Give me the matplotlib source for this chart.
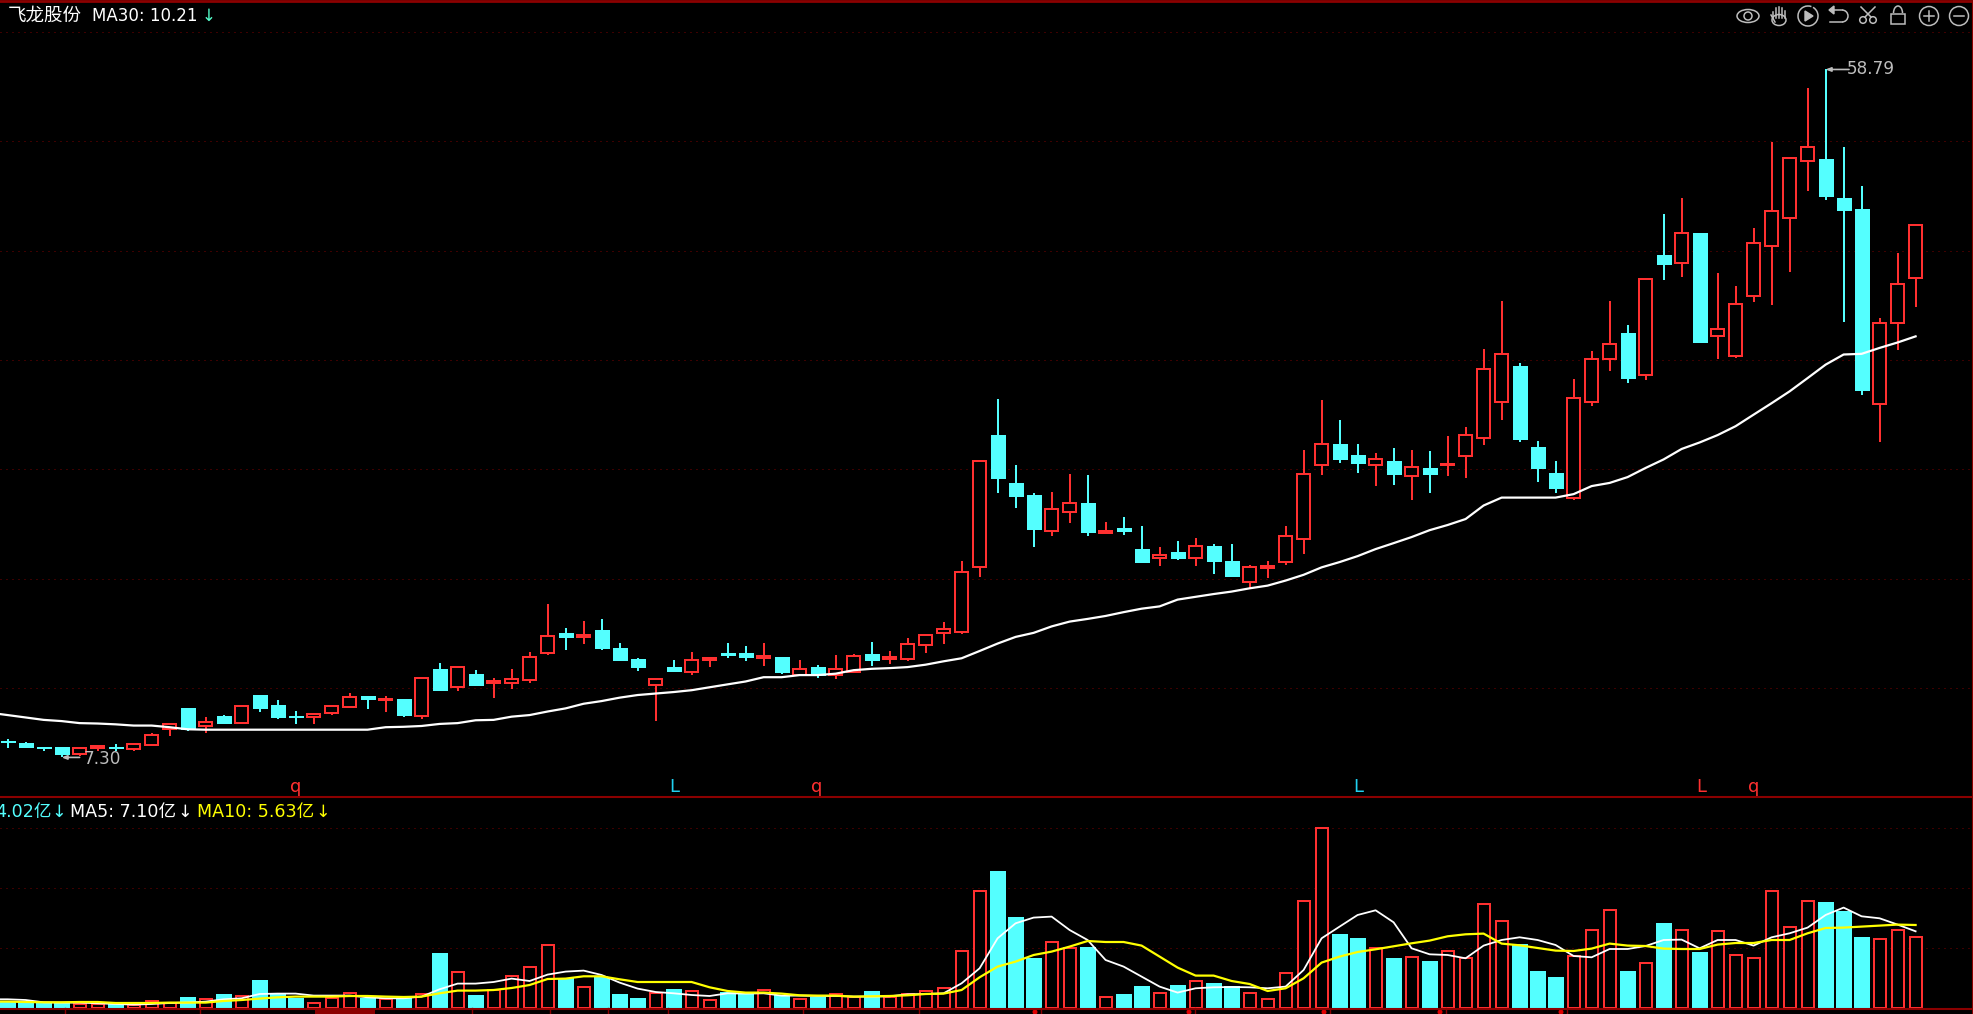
import matplotlib
matplotlib.use('Agg')
import matplotlib.pyplot as plt
from matplotlib.patches import Rectangle, Circle, Ellipse, Arc

plt.rcParams['font.family'] = ['DejaVu Sans', 'Noto Sans CJK SC']

# daily candles, oldest first
highs = [7.73, 7.66, 7.53, 7.53, 7.52, 7.58, 7.60, 7.63, 7.85, 8.11, 8.49, 8.24, 8.31, 8.55, 8.82, 8.69, 8.40, 8.33, 8.55, 8.87,
         8.79, 8.80, 8.72, 9.30, 9.71, 9.61, 9.51, 9.28, 9.53, 10.04, 11.64, 10.82, 11.03, 11.12, 10.32, 9.86, 9.27, 9.82, 10.05, 9.90,
         10.34, 10.24, 10.34, 9.90, 9.82, 9.65, 9.96, 9.99, 10.37, 10.08, 10.48, 10.60, 11.02, 13.26, 17.93, 21.64, 17.73, 16.29, 16.34, 17.26,
         17.21, 14.91, 15.14, 14.74, 13.83, 14.09, 14.22, 13.96, 13.96, 13.10, 13.25, 14.74, 18.54, 21.57, 20.28, 18.90, 18.35, 18.68, 18.57, 18.51,
         19.36, 19.91, 25.22, 29.16, 24.17, 19.06, 17.91, 23.02, 25.07, 29.16, 27.12, 31.19, 37.96, 39.85, 35.83, 31.71, 30.52, 36.39, 47.19, 44.95,
         55.62, 58.79, 46.50, 41.34, 27.70, 33.74, 36.70]
lows = [7.52, 7.50, 7.44, 7.30, 7.34, 7.45, 7.45, 7.44, 7.56, 7.80, 7.91, 7.87, 8.08, 8.08, 8.39, 8.21, 8.08, 8.08, 8.31, 8.47,
        8.46, 8.39, 8.24, 8.21, 8.92, 8.92, 9.07, 8.75, 8.99, 9.16, 9.96, 10.12, 10.29, 10.12, 9.79, 9.49, 8.16, 9.45, 9.37, 9.60,
        9.88, 9.77, 9.62, 9.41, 9.33, 9.28, 9.27, 9.43, 9.62, 9.70, 9.79, 10.02, 10.31, 10.60, 12.62, 16.29, 15.57, 13.83, 14.30, 14.87,
        14.30, 14.43, 14.35, 13.17, 13.06, 13.29, 13.06, 12.74, 12.63, 12.20, 12.59, 13.10, 13.52, 17.21, 17.80, 17.30, 16.60, 16.70, 15.95, 16.30,
        17.15, 17.05, 18.84, 20.28, 19.01, 16.85, 16.30, 15.95, 21.20, 23.57, 22.75, 22.95, 31.07, 31.35, 25.67, 24.47, 24.54, 29.07, 28.79, 31.81,
        40.72, 39.60, 27.37, 21.94, 19.01, 25.14, 28.61]
opens = [7.68, 7.62, 7.53, 7.53, 7.37, 7.52, 7.54, 7.48, 7.59, 7.96, 8.49, 8.02, 8.27, 8.11, 8.82, 8.56, 8.27, 8.24, 8.35, 8.50,
         8.79, 8.68, 8.72, 8.27, 9.53, 9.05, 9.40, 9.14, 9.14, 9.22, 10.01, 10.66, 10.52, 10.73, 10.17, 9.83, 9.10, 9.59, 9.45, 9.80,
         10.02, 10.02, 9.88, 9.90, 9.38, 9.59, 9.37, 9.46, 9.99, 9.83, 9.83, 10.25, 10.64, 10.67, 13.00, 19.42, 16.78, 16.20, 14.49, 15.35,
         15.81, 14.43, 14.65, 13.74, 13.37, 13.61, 13.38, 13.87, 13.25, 12.43, 12.98, 13.22, 14.16, 17.70, 18.88, 18.24, 17.72, 17.91, 17.15, 17.57,
         17.70, 18.22, 19.22, 21.46, 23.95, 18.73, 17.30, 16.02, 21.44, 24.45, 26.47, 23.28, 33.53, 32.72, 35.83, 26.22, 24.69, 29.61, 34.41, 37.47,
         44.59, 44.86, 39.85, 38.52, 21.33, 27.26, 31.22]
closes = [7.66, 7.53, 7.50, 7.37, 7.52, 7.55, 7.51, 7.61, 7.82, 8.09, 7.96, 8.12, 8.11, 8.54, 8.49, 8.24, 8.24, 8.33, 8.54, 8.78,
          8.72, 8.71, 8.31, 9.30, 8.96, 9.61, 9.10, 9.20, 9.27, 9.91, 10.56, 10.52, 10.58, 10.17, 9.81, 9.61, 9.27, 9.48, 9.81, 9.86,
          9.96, 9.90, 9.93, 9.47, 9.55, 9.37, 9.55, 9.92, 9.82, 9.90, 10.30, 10.59, 10.76, 12.80, 17.93, 17.05, 16.15, 14.61, 15.51, 15.80,
          14.48, 14.49, 14.52, 13.21, 13.48, 13.37, 13.86, 13.25, 12.67, 13.00, 13.06, 14.29, 17.24, 18.88, 18.02, 17.85, 18.05, 17.25, 17.59, 17.25,
          17.78, 19.38, 23.67, 24.79, 19.18, 17.57, 16.50, 21.69, 24.42, 25.54, 23.08, 31.19, 32.62, 35.76, 25.74, 26.74, 28.91, 34.78, 38.33, 44.91,
          46.41, 40.10, 38.40, 22.21, 27.24, 30.65, 36.65]
# the moving averages start one session before the first full candle
ma30 = [8.36, 8.30, 8.24, 8.18, 8.15, 8.10, 8.09, 8.07, 8.04, 8.04, 8.00, 7.95, 7.94, 7.94, 7.94, 7.94, 7.94, 7.94, 7.94, 7.94, 7.94,
        7.94, 8.00, 8.01, 8.03, 8.08, 8.10, 8.17, 8.18, 8.26, 8.30, 8.39, 8.47, 8.59, 8.66, 8.75, 8.82, 8.86, 8.90, 8.95, 9.03,
        9.11, 9.19, 9.31, 9.31, 9.37, 9.37, 9.41, 9.51, 9.55, 9.57, 9.60, 9.67, 9.77, 9.86, 10.08, 10.31, 10.52, 10.65, 10.86, 11.02,
        11.11, 11.21, 11.34, 11.46, 11.54, 11.78, 11.88, 11.98, 12.07, 12.19, 12.29, 12.48, 12.70, 12.99, 13.20, 13.44, 13.73, 13.98, 14.24, 14.54,
        14.77, 15.04, 15.67, 16.05, 16.05, 16.05, 16.05, 16.22, 16.62, 16.78, 17.08, 17.56, 18.02, 18.60, 18.97, 19.40, 19.93, 20.64, 21.37, 22.15,
        23.06, 24.02, 24.77, 24.82, 25.27, 25.69, 26.17]

# volume in 亿
volume = [0.50, 0.57, 0.47, 0.47, 0.43, 0.43, 0.33, 0.33, 0.70, 0.50, 1.03, 0.97, 1.33, 1.27, 2.73, 1.33, 0.93, 0.57, 1.00, 1.57,
          0.90, 0.93, 0.93, 1.47, 5.43, 3.67, 1.23, 1.87, 3.27, 4.17, 6.37, 2.90, 2.17, 3.00, 1.33, 0.93, 1.50, 1.83, 1.77, 0.87,
          1.50, 1.33, 1.87, 1.23, 0.97, 1.03, 1.47, 1.17, 1.63, 1.13, 1.47, 1.77, 2.07, 5.77, 11.77, 13.63, 9.03, 4.93, 6.67, 6.07,
          6.03, 1.17, 1.33, 2.13, 1.57, 2.23, 2.77, 2.43, 2.10, 1.57, 0.97, 3.57, 10.77, 18.07, 7.33, 6.93, 6.07, 4.93, 5.17, 4.63,
          5.77, 5.07, 10.47, 8.77, 6.33, 3.63, 3.03, 5.20, 7.87, 9.87, 3.63, 4.57, 8.43, 7.87, 5.53, 7.77, 5.37, 5.07, 11.77, 8.17,
          10.77, 10.53, 9.63, 7.03, 6.97, 7.87, 7.17]
vol_ma5 = [0.90, 0.90, 0.83, 0.60, 0.57, 0.57, 0.50, 0.43, 0.37, 0.43, 0.53, 0.57, 0.67, 0.90, 1.00, 1.43, 1.47, 1.47, 1.27, 1.27, 1.27,
           1.10, 1.00, 1.00, 1.17, 1.90, 2.47, 2.47, 2.63, 2.97, 2.73, 3.37, 3.67, 3.77, 3.33, 2.57, 1.97, 1.63, 1.50, 1.33, 1.23,
           1.50, 1.47, 1.50, 1.27, 1.27, 1.23, 1.23, 1.17, 1.17, 1.20, 1.40, 1.43, 1.50, 2.50, 4.00, 7.00, 8.50, 9.07, 9.17, 7.83,
           6.83, 4.83, 4.17, 3.17, 2.17, 1.57, 2.00, 2.10, 2.13, 2.10, 2.00, 2.17, 3.83, 7.00, 8.17, 9.33, 9.80, 8.60, 6.00, 5.40,
           5.33, 5.00, 6.27, 6.83, 7.10, 6.83, 6.33, 5.23, 5.10, 5.93, 5.93, 6.23, 6.83, 6.87, 6.00, 6.83, 6.83, 6.27, 7.10, 7.50,
           8.07, 9.33, 10.07, 9.20, 9.00, 8.37, 7.70]
vol_ma10 = [0.67, 0.67, 0.63, 0.60, 0.60, 0.63, 0.63, 0.53, 0.53, 0.53, 0.57, 0.57, 0.57, 0.73, 0.83, 0.97, 1.10, 1.17, 1.17, 1.17, 1.23,
            1.23, 1.17, 1.13, 1.17, 1.50, 1.77, 1.77, 1.83, 2.03, 2.33, 2.93, 2.97, 3.20, 3.20, 2.90, 2.63, 2.63, 2.63, 2.63, 2.10,
            1.73, 1.57, 1.57, 1.47, 1.30, 1.27, 1.27, 1.17, 1.20, 1.23, 1.30, 1.43, 1.47, 1.83, 3.10, 4.17, 4.67, 5.33, 5.67, 6.17,
            6.73, 6.63, 6.63, 6.27, 5.17, 4.07, 3.27, 3.27, 2.73, 2.43, 1.73, 2.00, 3.00, 4.57, 5.17, 5.63, 5.90, 6.20, 6.50, 6.77,
            7.20, 7.40, 7.47, 6.47, 6.30, 6.03, 5.77, 5.73, 5.97, 6.47, 6.27, 6.23, 5.97, 5.93, 5.93, 6.37, 6.53, 6.53, 6.83, 6.83,
            7.50, 8.03, 8.07, 8.17, 8.27, 8.37, 8.33]

price_grid = [65.9, 47.3, 33.95, 24.36, 17.48, 12.55, 9.01]
vol_grid = [6, 12, 18]

RED = '#ff3030'
CYAN = '#54ffff'
GRID = '#7a0000'
BORDER = '#8b0000'
GREY = '#bdbdbd'
W, H = 1974, 1014

x = list(range(len(closes)))
x_ma = [-1] + x
xlim = (-7.6 / 18, (W - 7.6) / 18)

fig = plt.figure(figsize=(W / 100, H / 100), dpi=100, facecolor='black')

# price panel, log scale
ax = fig.add_axes([0, (H - 796.7) / H, 1, (796.7 - 4) / H], facecolor='black')
ax.set_yscale('log')
ax.set_xlim(xlim)
ax.set_ylim(6.48, 71.7)
ax.axis('off')
for g in price_grid:
    ax.axhline(g, color=GRID, lw=0.72, ls=(0, (1, 5)), zorder=1)
for i in x:
    up = closes[i] >= opens[i]
    c = RED if up else CYAN
    ax.vlines(i, lows[i], highs[i], color=c, lw=1.44, zorder=2, antialiased=False)
    bottom = min(opens[i], closes[i])
    top = max(opens[i], closes[i])
    if up:
        ax.bar(i, top - bottom, 0.69, bottom, facecolor='black', edgecolor=c, linewidth=1.44, zorder=3, antialiased=False)
    else:
        ax.bar(i, top - bottom, 0.78, bottom, facecolor=c, edgecolor=c, linewidth=0.4, zorder=3, antialiased=False)
ax.plot(x_ma, ma30, color='white', lw=1.6, zorder=4)

ax.annotate('', xy=(101, 58.79), xytext=(102.3, 58.79),
            arrowprops=dict(arrowstyle='-|>,head_width=0.12,head_length=0.3', color=GREY, lw=1.2, shrinkA=0, shrinkB=0), zorder=5)
ax.annotate('', xy=(3, 7.30), xytext=(4, 7.30),
            arrowprops=dict(arrowstyle='-|>,head_width=0.12,head_length=0.3', color=GREY, lw=1.2, shrinkA=0, shrinkB=0), zorder=5)
ax.text(102.2, 58.79, '58.79', color=GREY, fontsize=12.2, va='center', ha='left', zorder=5)
ax.text(4.2, 7.27, '7.30', color=GREY, fontsize=12.2, va='center', ha='left', zorder=5)

# volume panel
ax2 = fig.add_axes([0, (H - 1008.3) / H, 1, (1008.3 - 796.7) / H], facecolor='none')
ax2.set_xlim(xlim)
ax2.set_ylim(0, 21.16)
ax2.axis('off')
for g in vol_grid:
    ax2.axhline(g, color=GRID, lw=0.72, ls=(0, (1, 5)), zorder=1)
for i in x:
    if closes[i] >= opens[i]:
        ax2.bar(i, volume[i], 0.67, 0, facecolor='black', edgecolor=RED, linewidth=1.44, zorder=2, antialiased=False)
    else:
        ax2.bar(i, volume[i], 0.77, 0, facecolor=CYAN, edgecolor=CYAN, linewidth=0.3, zorder=2, antialiased=False)
ax2.plot(x_ma, vol_ma5, color='white', lw=1.3, zorder=3)
ax2.plot(x_ma, vol_ma10, color='#ffff00', lw=1.6, zorder=4)

# overlay in pixel coordinates: borders, headers, toolbar
ov = fig.add_axes([0, 0, 1, 1], facecolor='none')
ov.set_xlim(0, W)
ov.set_ylim(H, 0)
ov.axis('off')

ov.plot([0, W], [1, 1], color=BORDER, lw=2)
ov.plot([0, W], [796.7, 796.7], color=BORDER, lw=1.5)
ov.plot([0, W], [1008.5, 1008.5], color=BORDER, lw=1.5)
ov.plot([1973, 1973], [0, 1014], color=BORDER, lw=1.5)

# date strip under the volume bars
for t in [65, 200, 472, 550, 608, 668, 803, 919, 1041, 1195, 1330, 1446, 1567]:
    ov.plot([t, t], [1008, 1014], color=BORDER, lw=1)
ov.add_patch(Rectangle((315, 1008), 60, 6, color=BORDER, lw=0))
for t in [1035, 1189, 1324, 1440, 1561]:
    ov.add_patch(Circle((t, 1012), 2.5, color='#e00000', lw=0))

# header texts
ov.text(8, 16, '飞龙股份', color='white', fontsize=13.3, va='center', ha='left', family='Noto Sans CJK SC')
ov.text(92, 16, 'MA30: 10.21', color='white', fontsize=12, va='center', ha='left')
ov.text(209, 16, '↓', color='#55ffcc', fontsize=12, va='center', ha='center')
header = [(-4.5, '4.02亿', 59, CYAN), (70, 'MA5: 7.10亿', 185, 'white'), (197, 'MA10: 5.63亿', 323, '#ffff00')]
for tx, label, arrow_x, c in header:
    ov.text(tx, 812, label, color=c, fontsize=12.6, va='center', ha='left', clip_on=True)
    ov.text(arrow_x, 812, '↓', color=c, fontsize=12.6, va='center', ha='center')

# signal letters above the divider
for px, letter, c in [(296, 'q', RED), (674, 'L', '#20d0f0'), (817, 'q', RED),
                      (1358, 'L', '#20d0f0'), (1701, 'L', RED), (1754, 'q', RED)]:
    ov.text(px, 792, letter, color=c, fontsize=13, va='baseline', ha='center')

# toolbar icons
icon = dict(color=GREY, lw=1.1)
ov.add_patch(Ellipse((1748, 16), 22, 13, fill=False, ec=GREY, lw=1.1))
ov.add_patch(Circle((1748, 16), 4, fill=False, ec=GREY, lw=1.1))
for fx, ftop in [(1773, 12), (1776, 8), (1779, 7), (1782, 8), (1785, 11)]:
    ov.plot([fx, fx], [ftop, 18], **icon)
ov.add_patch(Ellipse((1779, 20), 14, 11, fill=False, ec=GREY, lw=1.1))
ov.plot([1771, 1775], [15, 22], **icon)
ov.add_patch(Arc((1808, 16), 20, 20, theta1=-60, theta2=290, ec=GREY, lw=1.1))
ov.fill([1805, 1805, 1813], [11, 21, 16], color=GREY)
ov.plot([1830, 1842], [10, 10], **icon)
ov.fill([1829, 1834, 1834], [10, 6, 14], color=GREY)
ov.add_patch(Arc((1842, 16), 12, 12, theta1=-90, theta2=90, ec=GREY, lw=1.1))
ov.plot([1830, 1842], [22, 22], **icon)
ov.add_patch(Circle((1863, 20), 3.3, fill=False, ec=GREY, lw=1.1))
ov.add_patch(Circle((1873, 20), 3.3, fill=False, ec=GREY, lw=1.1))
ov.plot([1865, 1875], [17, 7], **icon)
ov.plot([1871, 1861], [17, 7], **icon)
ov.add_patch(Rectangle((1891, 14), 14, 10, fill=False, ec=GREY, lw=1.1))
ov.add_patch(Arc((1898, 13), 9, 14, theta1=180, theta2=360, ec=GREY, lw=1.1))
ov.add_patch(Circle((1929, 16), 9.5, fill=False, ec=GREY, lw=1.1))
ov.plot([1924, 1934], [16, 16], **icon)
ov.plot([1929, 1929], [11, 21], **icon)
ov.add_patch(Circle((1959, 16), 9.5, fill=False, ec=GREY, lw=1.1))
ov.plot([1954, 1964], [16, 16], **icon)

fig.savefig('out.png', dpi=100, facecolor='black')
